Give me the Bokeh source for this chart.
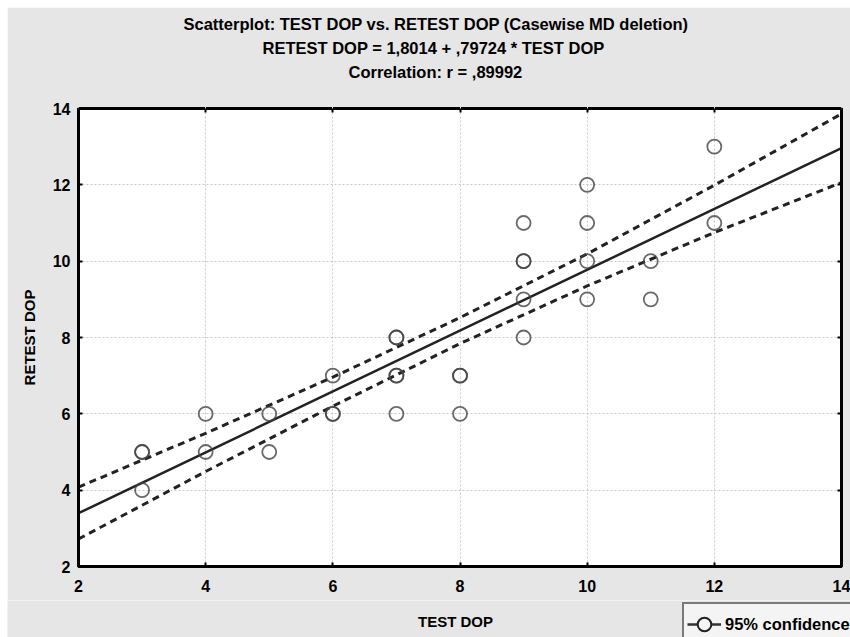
from bokeh.plotting import figure
from bokeh.models import (Title, Legend, LegendItem, FixedTicker, Range1d, Label, Spacer,
                          LinearAxis, CustomJSTickFormatter)
from bokeh.layouts import column, row
from bokeh.embed import file_html
from bokeh.resources import INLINE

# ---- data ----
test_dop = [3, 3, 3, 4, 4, 5, 5, 6, 6, 6, 7, 7, 7, 7, 7, 8, 8, 8,
            9, 9, 9, 9, 9, 10, 10, 10, 10, 11, 11, 12, 12]
retest_dop = [5, 5, 4, 6, 5, 6, 5, 7, 6, 6, 8, 8, 7, 7, 6, 7, 7, 6,
              11, 10, 10, 9, 8, 12, 11, 10, 9, 10, 9, 13, 11]
ticks = [2, 4, 6, 8, 10, 12, 14]
intercept = 1.8014
slope = 0.79724
band_x = [2, 4, 6, 8, 10, 12, 14]
band_upper = [4.08, 5.49, 6.96, 8.52, 10.19, 11.99, 13.86]
band_lower = [2.72, 4.49, 6.20, 7.84, 9.35, 10.75, 12.06]

title_lines = ["Correlation: r = ,89992",
               "RETEST DOP = 1,8014 + ,79724 * TEST DOP",
               "Scatterplot: TEST DOP vs. RETEST DOP (Casewise MD deletion)"]

FONT = "Liberation Sans"
BG = "#e6e6e6"
INK = "#222222"
NAN = float("nan")

p = figure(width=843, height=593, x_range=Range1d(2, 14), y_range=Range1d(2, 14),
           output_backend="svg", toolbar_location=None,
           min_border_left=71, min_border_right=9, min_border_top=101, min_border_bottom=34,
           background_fill_color="white", border_fill_color=BG)
p.title.visible = False

blank = CustomJSTickFormatter(code="return ''")

# frame ticks on top and right (no labels)
top_ax = LinearAxis(ticker=FixedTicker(ticks=ticks), formatter=blank,
                    major_tick_in=4, major_tick_out=0, major_tick_line_width=2,
                    minor_tick_line_color=None, axis_line_color="black", axis_line_width=3)
p.add_layout(top_ax, "above")
# invisible spacer between the frame and the title lines
gap_ax = LinearAxis(ticker=FixedTicker(ticks=ticks), formatter=blank,
                    major_tick_in=0, major_tick_out=26, major_tick_line_color=BG,
                    minor_tick_line_color=None, axis_line_color=None)
p.add_layout(gap_ax, "above")
right_ax = LinearAxis(ticker=FixedTicker(ticks=ticks), formatter=blank,
                      major_tick_in=4, major_tick_out=0, major_tick_line_width=2,
                      minor_tick_line_color=None, axis_line_color="black", axis_line_width=3,
                      major_label_standoff=0)
p.add_layout(right_ax, "right")

# three title lines, first added sits closest to the plot
for txt, off in zip(title_lines, [270, 184, 105]):
    p.add_layout(Title(text=txt, align="left", offset=off, standoff=4,
                       text_font=FONT, text_font_size="16.5px", text_font_style="bold",
                       text_color="black"), "above")

# grid
for g in (p.xgrid, p.ygrid):
    g.ticker = FixedTicker(ticks=ticks)
    g.grid_line_color = "#c8c8c8"
    g.grid_line_dash = "2 2"
    g.grid_line_width = 1

xax = p.below[0]
yax = p.left[0]
for ax in (xax, yax):
    ax.ticker = FixedTicker(ticks=ticks)
    ax.minor_tick_line_color = None
    ax.major_tick_in = 4
    ax.major_tick_out = 0
    ax.major_tick_line_width = 2
    ax.major_tick_line_color = "black"
    ax.axis_line_color = "black"
    ax.axis_line_width = 3
    ax.major_label_text_font = FONT
    ax.major_label_text_font_size = "16px"
    ax.major_label_text_font_style = "bold"
    ax.major_label_text_color = "black"
    ax.axis_label_text_font = FONT
    ax.axis_label_text_font_size = "15px"
    ax.axis_label_text_font_style = "bold"
    ax.axis_label_text_color = "black"

yax.axis_label = "RETEST DOP"
xax.major_label_standoff = 13
yax.major_label_standoff = 8
yax.axis_label_standoff = 12

p.outline_line_color = "black"
p.outline_line_width = 3

# confidence bands
p.line(band_x, band_upper, line_color=INK, line_width=3, line_dash="7 5")
p.line(band_x, band_lower, line_color=INK, line_width=3, line_dash="7 5")

# regression line
fx = [ticks[0], ticks[-1]]
fy = [intercept + slope * v for v in fx]
p.line(fx, fy, line_color=INK, line_width=2.5)

# points
p.scatter(test_dop, retest_dop, marker="circle", size=14, fill_color=None,
          line_color="#444444", line_alpha=0.8, line_width=1.8)

# bottom strip: x-axis title and legend
p2 = figure(width=843, height=37, x_range=Range1d(0, 843), y_range=Range1d(0, 37),
            output_backend="svg", toolbar_location=None, min_border=0,
            x_axis_type=None, y_axis_type=None, outline_line_color=None,
            background_fill_color=BG, border_fill_color=BG)
p2.title.visible = False
p2.grid.visible = False
p2.add_layout(Label(x=448, y=16, text="TEST DOP", text_align="center", text_baseline="middle",
                    text_font=FONT, text_font_size="15px", text_font_style="bold",
                    text_color="black"))
# legend swatches (no visible data)
sw_line = p2.line([NAN, NAN], [NAN, NAN], line_color="#333333", line_width=2.5)
sw_pt = p2.scatter([NAN], [NAN], marker="circle", size=13, fill_color="#f4f4f4",
                   line_color=INK, line_width=2)
leg = Legend(items=[LegendItem(label="95% confidence", renderers=[sw_line, sw_pt])],
             location=(675, -9), orientation="horizontal",
             label_text_font=FONT, label_text_font_size="16.5px", label_text_font_style="bold",
             label_text_color="black",
             border_line_color="black", border_line_width=2,
             background_fill_color="#f4f4f4", background_fill_alpha=1,
             padding=3, margin=0, glyph_width=34, glyph_height=34, label_height=34,
             label_standoff=4)
p2.add_layout(leg, "center")

layout = column(Spacer(height=7), row(Spacer(width=7), column(p, row(p2))))
open("out.html", "w").write(file_html(layout, INLINE))
